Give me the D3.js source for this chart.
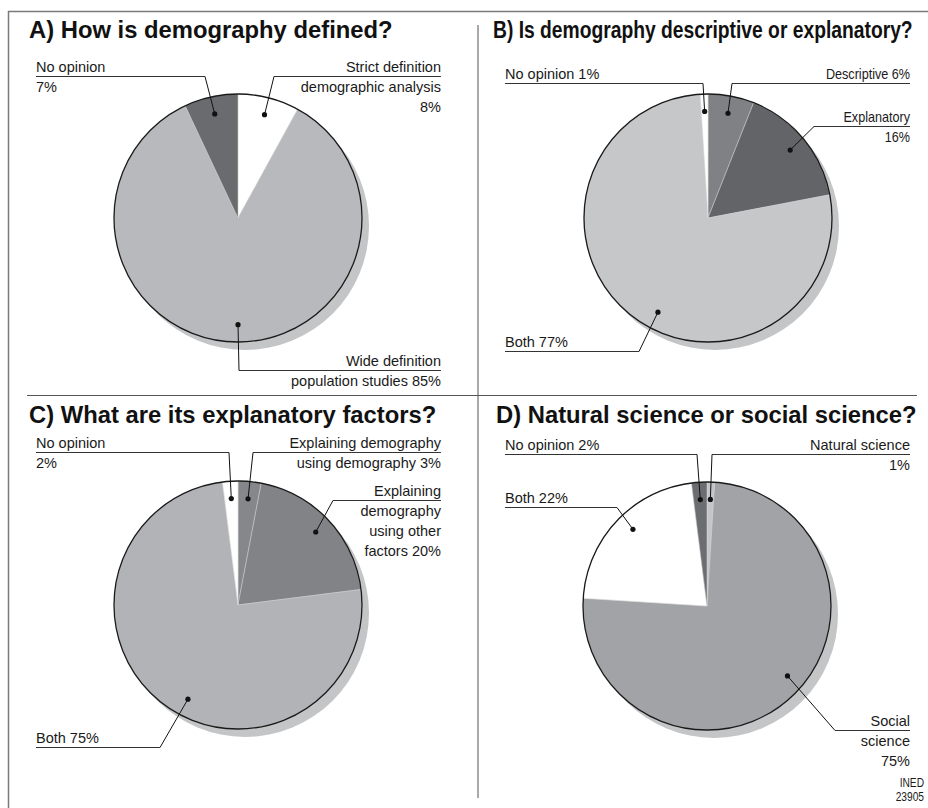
<!DOCTYPE html>
<html>
<head>
<meta charset="utf-8">
<script src="https://cdn.jsdelivr.net/npm/d3@7"></script>
<style>
  body { margin: 0; background: #fff; }
  svg { display: block; }
  text { font-family: "Liberation Sans", Arial, Helvetica, sans-serif; }
</style>
</head>
<body>
<script>
// Survey answers, in percent, slices listed clockwise from 12 o'clock
var titles = [
    "A) How is demography defined?",
    "B) Is demography descriptive or explanatory?",
    "C) What are its explanatory factors?",
    "D) Natural science or social science?"
];

var aCategories = ["Strict definition", "Wide definition", "No opinion"];
var aValues = [8, 85, 7];
var aLines = [["Strict definition", "demographic analysis", "{v}%"], ["Wide definition", "population studies {v}%"], ["No opinion", "{v}%"]];

var bCategories = ["Descriptive", "Explanatory", "Both", "No opinion"];
var bValues = [6, 16, 77, 1];
var bLines = [["Descriptive {v}%"], ["Explanatory", "{v}%"], ["Both {v}%"], ["No opinion {v}%"]];

var cCategories = ["Explaining demography using demography", "Explaining demography using other factors", "Both", "No opinion"];
var cValues = [3, 20, 75, 2];
var cLines = [["Explaining demography", "using demography {v}%"], ["Explaining", "demography", "using other", "factors {v}%"], ["Both {v}%"], ["No opinion", "{v}%"]];

var dCategories = ["Natural science", "Social science", "Both", "No opinion"];
var dValues = [1, 75, 22, 2];
var dLines = [["Natural science", "{v}%"], ["Social", "science", "{v}%"], ["Both {v}%"], ["No opinion {v}%"]];

var W = 928, H = 808, R = 124;

var svg = d3.select("body").append("svg")
    .attr("width", W)
    .attr("height", H);

// horizontally squeezed text (the original uses a condensed face here and there)
function putText(x, y, str, anchor, size, squeeze){
    return svg.append("text")
        .attr("transform", "translate(" + x + "," + y + ") scale(" + (squeeze || 1) + ",1)")
        .attr("text-anchor", anchor)
        .style("font-size", size)
        .style("fill", "#1a1a1a")
        .text(str);
}

// outer frame and panel dividers
svg.append("line").attr("x1", 8).attr("x2", W).attr("y1", 11.5).attr("y2", 11.5)
    .style("stroke", "#7a7a7a").style("stroke-width", 1.5);
svg.append("line").attr("x1", 8.5).attr("x2", 8.5).attr("y1", 11).attr("y2", H)
    .style("stroke", "#7a7a7a").style("stroke-width", 1.5);
svg.append("line").attr("x1", 478).attr("x2", 478).attr("y1", 25).attr("y2", 798)
    .style("stroke", "#555").style("stroke-width", 1);
svg.append("line").attr("x1", 27).attr("x2", 917).attr("y1", 395.5).attr("y2", 395.5)
    .style("stroke", "#555").style("stroke-width", 1);

// per panel layout: pie centre, colours, title placement and label placement
var panels = [
    {
        values: aValues, cats: aCategories, lines: aLines,
        cx: 238, cy: 218, tx: 29, ty: 38, squeeze: 1,
        colors: ["#ffffff", "#b8b9bc", "#6a6b6e"],
        labels: [
            {anchor: "end", x: 441, y: 72, elbow: 274},
            {anchor: "end", x: 441, y: 366, elbow: 239, angle: 180},
            {anchor: "start", x: 36, y: 72, elbow: 205}
        ]
    },
    {
        values: bValues, cats: bCategories, lines: bLines,
        cx: 708, cy: 218, tx: 493, ty: 38, squeeze: 0.81,
        colors: ["#808184", "#636467", "#c6c7c9", "#ffffff"],
        labels: [
            {anchor: "end", x: 910, y: 79, elbow: 732, narrow: true},
            {anchor: "end", x: 910, y: 122, elbow: 814, narrow: true},
            {anchor: "start", x: 505, y: 347, elbow: 639, angle: 208},
            {anchor: "start", x: 505, y: 79, elbow: 703}
        ]
    },
    {
        values: cValues, cats: cCategories, lines: cLines,
        cx: 238, cy: 605, tx: 29, ty: 423, squeeze: 1,
        colors: ["#86878a", "#828386", "#b2b3b6", "#ffffff"],
        labels: [
            {anchor: "end", x: 441, y: 448, elbow: 253},
            {anchor: "end", x: 441, y: 496, elbow: 333},
            {anchor: "start", x: 36, y: 743, elbow: 160, angle: 208},
            {anchor: "start", x: 36, y: 448, elbow: 229}
        ]
    },
    {
        values: dValues, cats: dCategories, lines: dLines,
        cx: 707, cy: 606, tx: 496, ty: 423, squeeze: 1,
        colors: ["#c4c5c7", "#a2a3a6", "#ffffff", "#6c6d70"],
        labels: [
            {anchor: "end", x: 910, y: 450, elbow: 712},
            {anchor: "end", x: 910, y: 726, elbow: 835, angle: 131},
            {anchor: "start", x: 505, y: 503, elbow: 617, angle: 316},
            {anchor: "start", x: 505, y: 450, elbow: 697}
        ]
    }
];

var pie = d3.pie().sort(null).value(function(d){ return d; });
var arc = d3.arc().innerRadius(0).outerRadius(R);
var dotR = R * 0.86;

panels.forEach(function(p, pi){
    // title
    putText(p.tx, p.ty, titles[pi], "start", "23.8px", p.squeeze)
        .style("font-weight", "bold")
        .style("fill", "#111");

    var g = svg.append("g").attr("transform", "translate(" + p.cx + "," + p.cy + ")");

    // drop shadow
    g.append("circle").attr("cx", 7).attr("cy", 8).attr("r", R)
        .style("fill", "#c4c5c7");

    var slices = pie(p.values);
    g.selectAll("path.slice")
        .data(slices)
        .enter().append("path")
        .attr("class", "slice")
        .attr("d", arc)
        .style("fill", function(d, i){ return p.colors[i]; })
        .style("stroke", "#d4d5d7")
        .style("stroke-width", 0.5);

    g.append("circle").attr("r", R)
        .style("fill", "none")
        .style("stroke", "#1a1a1a")
        .style("stroke-width", 1.3);

    // labels with underline + leader line + dot
    slices.forEach(function(s, i){
        var L = p.labels[i];
        var a = L.angle != null ? L.angle * Math.PI / 180 : (s.startAngle + s.endAngle) / 2;
        var dx = p.cx + Math.sin(a) * dotR;
        var dy = p.cy - Math.cos(a) * dotR;
        var uy = L.y + 4.5;
        var ux1 = L.anchor === "start" ? L.x : L.elbow;
        var ux2 = L.anchor === "start" ? L.elbow : L.x;

        svg.append("line")
            .attr("x1", ux1).attr("x2", ux2).attr("y1", uy).attr("y2", uy)
            .style("stroke", "#333").style("stroke-width", 1);
        svg.append("line")
            .attr("x1", L.elbow).attr("y1", uy).attr("x2", dx).attr("y2", dy)
            .style("stroke", "#111").style("stroke-width", 1);
        svg.append("circle")
            .attr("cx", dx).attr("cy", dy).attr("r", 2.6)
            .style("fill", "#111");

        p.lines[i].forEach(function(line, li){
            putText(L.x, L.y + li * 20, line.replace("{v}", p.values[i]), L.anchor, "14.5px", L.narrow ? 0.87 : 1);
        });
    });
});

// source note
["INED", "23905"].forEach(function(s, i){
    putText(924, 787 + i * 14, s, "end", "12px", 0.85);
});
</script>
</body>
</html>
